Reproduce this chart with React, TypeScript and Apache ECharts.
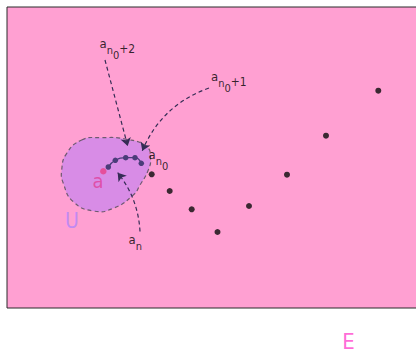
import React, { useEffect, useRef } from "react";
import * as echarts from "echarts";

// Sequence points a_n (outside the neighbourhood)
const dotX = [144.7, 162.7, 184.7, 210.5, 242, 280, 319, 371.3];
const dotY = [133.7, 117, 98.7, 76, 102, 133.3, 172.3, 217.3];
// Sequence points inside U, approaching a
const pathX = [101.3, 108.3, 118.7, 128, 134.3];
const pathY = [141, 147.7, 150.3, 150.3, 144.7];
// Limit point a
const limitX = [96.3];
const limitY = [136.7];
// Neighbourhood U outline
const blobX = [74.7, 93, 119.7, 139.7, 143.5, 141.3, 133, 126.3, 106.3, 86.3, 66.3, 56.3, 54.7, 59.7];
const blobY = [168, 170.3, 168.7, 161.3, 150, 138, 123, 113, 99.7, 97, 106.3, 124.7, 138, 154.7];
// Dashed arrows from term labels to points
const arrowFromX = [98, 202, 133];
const arrowFromY = [248, 220, 76.5];
const arrowToX = [120.7, 135.3, 110.7];
const arrowToY = [162, 157.3, 135.3];
const arrowBend = [0, -0.22, -0.16];
// Term labels
const termNames = [
  "{a|a}{n|n}{z|0}{p|+2}",
  "{a|a}{n|n}{z|0}{p|+1}",
  "{a|a}{n|n}{z|0}",
  "{a|a}{n|n}",
];
const termX = [93, 204.5, 142, 122];
const termY = [271, 237.7, 159.3, 74.3];
// Letter labels
const letterNames = ["a", "U", "E"];
const letterX = [91.5, 65.3, 342];
const letterY = [127, 87, -33.5];

const letterColors = ["#E0409A", "#B084FA", "#FF44CC"];
const letterSizes = [20, 21, 22];

const FONT = '"Liberation Sans Narrow", "DejaVu Sans Condensed", "Open Sans", sans-serif';

export default function App() {
  const ref = useRef<HTMLDivElement>(null);
  useEffect(() => {
    if (!ref.current) return;
    const chart = echarts.init(ref.current, undefined, { renderer: "svg" });
    const rich = {
      a: { fontSize: 13, lineHeight: 13, verticalAlign: "top", padding: [0, 0, 0, 0], color: "#000", fontFamily: FONT },
      n: { fontSize: 11, lineHeight: 11, verticalAlign: "top", padding: [8, 0, 0, 0], color: "#000", fontFamily: FONT },
      z: { fontSize: 11, lineHeight: 11, verticalAlign: "top", padding: [13, 0, 0, 0], color: "#000", fontFamily: FONT },
      p: { fontSize: 12, lineHeight: 12, verticalAlign: "top", padding: [6.5, 0, 0, 0], color: "#000", fontFamily: FONT },
    };
    chart.setOption({
      animation: false,
      graphic: {
        elements: [
          {
            type: "rect",
            z: 0,
            silent: true,
            shape: { x: 7, y: 7, width: 430, height: 301 },
            style: { fill: "#FFA0D2", stroke: "#2a2a2a", lineWidth: 1 },
          },
        ],
      },
      grid: {
        show: false,
        left: 7,
        top: 7,
        width: 409,
        height: 301,
      },
      xAxis: { type: "value", min: 0, max: 409, show: false },
      yAxis: { type: "value", min: 0, max: 301, show: false },
      series: [
        {
          type: "custom",
          clip: false,
          z: 2,
          data: blobX.map((x, i) => [x, blobY[i]]),
          renderItem: (params: any, api: any) => {
            if (params.dataIndex !== 0) return null;
            const pts = blobX.map((x, i) => api.coord([x, blobY[i]]));
            return {
              type: "polygon",
              shape: { points: pts, smooth: 0.5 },
              style: {
                fill: "#D88CE6",
                stroke: "#6e5a70",
                lineWidth: 1.2,
                lineDash: [4, 3],
              },
            };
          },
        },
        {
          type: "lines",
          coordinateSystem: "cartesian2d",
          z: 3,
          symbol: ["none", "arrow"],
          symbolSize: 8,
          lineStyle: { color: "#352c55", width: 1.2, type: [4, 3], opacity: 1 },
          data: arrowFromX.map((x, i) => ({
            coords: [
              [x, arrowFromY[i]],
              [arrowToX[i], arrowToY[i]],
            ],
            lineStyle: { curveness: arrowBend[i] },
          })),
        },
        {
          type: "line",
          z: 4,
          smooth: 0.5,
          symbol: "circle",
          symbolSize: 5.5,
          showSymbol: true,
          itemStyle: { color: "#4a3c7a" },
          lineStyle: { color: "#4a3c7a", width: 1.3 },
          data: pathX.map((x, i) => [x, pathY[i]]),
        },
        {
          type: "scatter",
          z: 5,
          symbolSize: 6.5,
          itemStyle: { color: "#E8408A" },
          data: limitX.map((x, i) => [x, limitY[i]]),
        },
        {
          type: "scatter",
          z: 5,
          symbolSize: 6,
          itemStyle: { color: "#0a0a0a" },
          data: dotX.map((x, i) => [x, dotY[i]]),
        },
        {
          type: "scatter",
          z: 6,
          clip: false,
          symbolSize: 1,
          itemStyle: { color: "transparent" },
          label: {
            show: true,
            position: [0, 0],
            align: "left",
            verticalAlign: "top",
            formatter: (p: any) => termNames[p.dataIndex],
            rich,
          },
          data: termX.map((x, i) => [x, termY[i]]),
        },
        {
          type: "scatter",
          z: 6,
          clip: false,
          symbolSize: 1,
          itemStyle: { color: "transparent" },
          data: letterX.map((x, i) => ({
            value: [x, letterY[i]],
            label: {
              show: true,
              position: [0, 0],
              align: "center",
              verticalAlign: "middle",
              formatter: letterNames[i],
              color: letterColors[i],
              fontSize: letterSizes[i],
              fontFamily: FONT,
            },
          })),
        },
      ],
    });
    return () => chart.dispose();
  }, []);
  return (
    <div
      ref={ref}
      style={{ position: "absolute", left: 0, top: 0, width: 416, height: 353 }}
    />
  );
}
